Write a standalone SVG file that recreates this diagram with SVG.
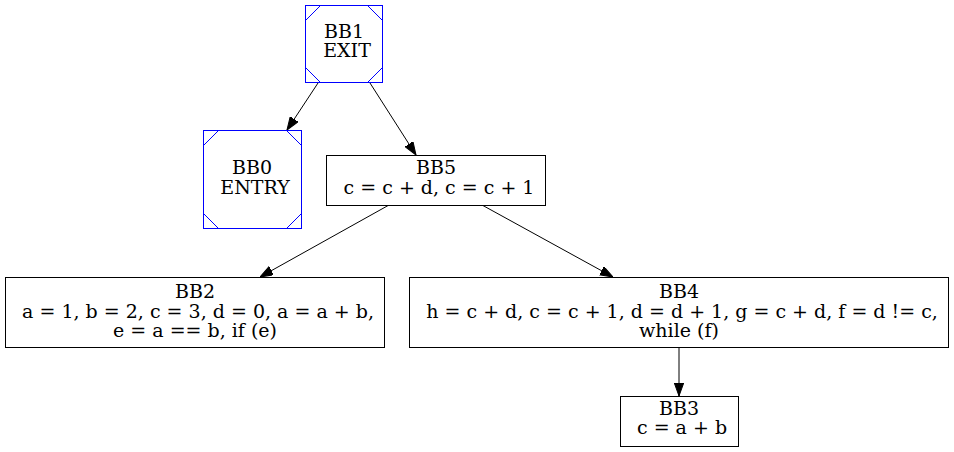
<svg xmlns="http://www.w3.org/2000/svg" width="954" height="452" viewBox="0 0 954 452">
<defs>
<style>
text{font-family:"DejaVu Serif","Liberation Serif",serif;font-size:19px;fill:#000;text-anchor:middle;white-space:pre}
.box{fill:#fff;stroke:#000;stroke-width:1}
.ms{fill:#fff;stroke:#0000ff;stroke-width:1}
.msl{stroke:#0000ff;stroke-width:1;fill:none}
.edge{stroke:#000;stroke-width:1;fill:none;marker-end:url(#arr)}
</style>
<marker id="arr" markerUnits="userSpaceOnUse" markerWidth="13" markerHeight="10" refX="13" refY="4.7" orient="auto">
<path d="M0,0 L13,4.7 L0,9.4 z" fill="#000" stroke="#000" stroke-width="1"/>
</marker>
</defs>
<rect width="954" height="452" fill="#fff"/>
<g id="edges">
<line class="edge" x1="318" y1="83" x2="287" y2="130"/>
<line class="edge" x1="370" y1="83" x2="416" y2="155"/>
<line class="edge" x1="389" y1="205" x2="260" y2="277"/>
<line class="edge" x1="482" y1="205" x2="613" y2="277"/>
<line class="edge" x1="679" y1="348" x2="679" y2="396"/>
</g>
<g id="BB1">
<rect class="ms" x="305.5" y="5.5" width="77" height="77"/>
<path class="msl" d="M305.5,20.5 L320.5,5.5 M367.5,5.5 L382.5,20.5 M305.5,67.5 L320.5,82.5 M367.5,82.5 L382.5,67.5"/>
<text x="344" y="38" xml:space="preserve">BB1</text>
<text x="344" y="57" xml:space="preserve"> EXIT</text>
</g>
<g id="BB0">
<rect class="ms" x="203.5" y="130.5" width="98" height="98"/>
<path class="msl" d="M203.5,145.5 L218.5,130.5 M286.5,130.5 L301.5,145.5 M203.5,213.5 L218.5,228.5 M286.5,228.5 L301.5,213.5"/>
<text x="252" y="174" xml:space="preserve">BB0</text>
<text x="252" y="194" xml:space="preserve"> ENTRY</text>
</g>
<g id="BB5">
<rect class="box" x="326.5" y="155.5" width="219" height="50"/>
<text x="436" y="174" xml:space="preserve">BB5</text>
<text x="436" y="194" xml:space="preserve"> c = c + d, c = c + 1</text>
</g>
<g id="BB2">
<rect class="box" x="5.5" y="277.5" width="379" height="70"/>
<text x="195" y="298" xml:space="preserve">BB2</text>
<text x="195" y="318" xml:space="preserve"> a = 1, b = 2, c = 3, d = 0, a = a + b,</text>
<text x="195" y="337" xml:space="preserve">e = a == b, if (e)</text>
</g>
<g id="BB4">
<rect class="box" x="409.5" y="277.5" width="539" height="70"/>
<text x="679" y="298" xml:space="preserve">BB4</text>
<text x="679" y="318" xml:space="preserve"> h = c + d, c = c + 1, d = d + 1, g = c + d, f = d != c,</text>
<text x="679" y="337" xml:space="preserve">while (f)</text>
</g>
<g id="BB3">
<rect class="box" x="620.5" y="396.5" width="118" height="50"/>
<text x="679" y="415" xml:space="preserve">BB3</text>
<text x="679" y="434" xml:space="preserve"> c = a + b</text>
</g>
</svg>
